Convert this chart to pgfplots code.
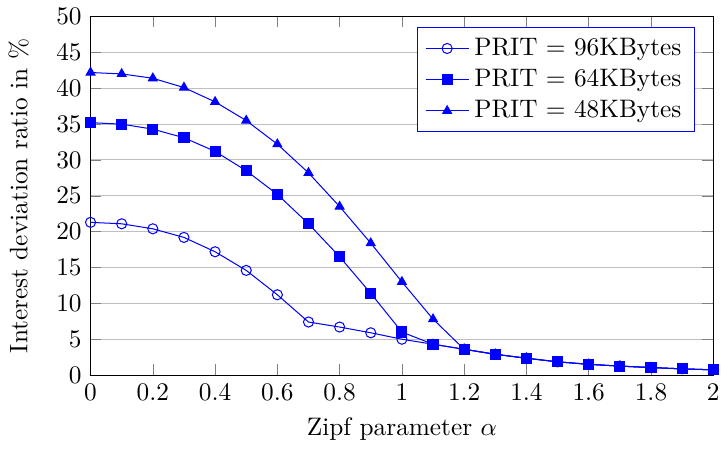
\documentclass[border=0pt]{standalone}
\usepackage{pgfplots}
\pgfplotsset{compat=1.18}
\begin{document}
\begin{tikzpicture}
\begin{axis}[
  scale only axis,
  width=8.65cm, height=4.98cm,
  xmin=0, xmax=2, ymin=0, ymax=50,
  xtick={0,0.2,0.4,0.6,0.8,1,1.2,1.4,1.6,1.8,2},
  ytick={0,5,10,15,20,25,30,35,40,45,50},
  ymajorgrids,
  xlabel={Zipf parameter $\alpha$},
  ylabel={Interest deviation ratio in \%},
  ylabel shift=4pt,
  legend style={draw=blue, font=\normalsize, at={(0.97,0.97)}, anchor=north east},
  legend cell align=left,
]
\addplot[blue, mark=o] coordinates {
(0,21.3)(0.1,21.1)(0.2,20.4)(0.3,19.2)(0.4,17.2)(0.5,14.6)(0.6,11.2)(0.7,7.4)(0.8,6.7)(0.9,5.9)(1.0,5.0)(1.1,4.3)(1.2,3.6)(1.3,2.9)(1.4,2.35)(1.5,1.85)(1.6,1.5)(1.7,1.25)(1.8,1.05)(1.9,0.87)(2.0,0.73)};
\addlegendentry{PRIT = 96KBytes}
\addplot[blue, mark=square*] coordinates {
(0,35.2)(0.1,35.0)(0.2,34.3)(0.3,33.1)(0.4,31.2)(0.5,28.5)(0.6,25.2)(0.7,21.1)(0.8,16.5)(0.9,11.4)(1.0,6.0)(1.1,4.3)(1.2,3.6)(1.3,2.9)(1.4,2.35)(1.5,1.85)(1.6,1.5)(1.7,1.25)(1.8,1.05)(1.9,0.87)(2.0,0.73)};
\addlegendentry{PRIT = 64KBytes}
\addplot[blue, mark=triangle*] coordinates {
(0,42.2)(0.1,42.0)(0.2,41.4)(0.3,40.1)(0.4,38.1)(0.5,35.5)(0.6,32.2)(0.7,28.2)(0.8,23.5)(0.9,18.4)(1.0,13.0)(1.1,7.8)(1.2,3.6)(1.3,2.9)(1.4,2.35)(1.5,1.85)(1.6,1.5)(1.7,1.25)(1.8,1.05)(1.9,0.87)(2.0,0.73)};
\addlegendentry{PRIT = 48KBytes}
\end{axis}
\end{tikzpicture}
\end{document}
